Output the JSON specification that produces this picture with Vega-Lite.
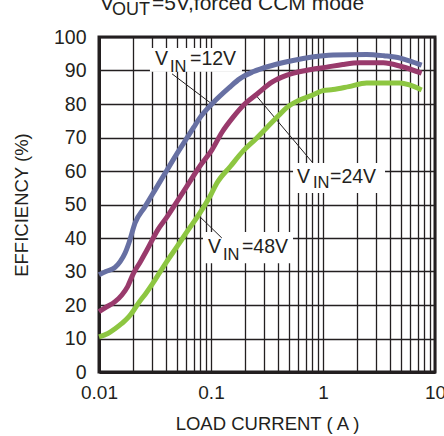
{
  "$schema": "https://vega.github.io/schema/vega-lite/v6.json",
  "width": 336,
  "height": 335,
  "autosize": {"type": "none"},
  "padding": {"left": 99, "top": 37, "right": 9, "bottom": 64},
  "background": "white",
  "config": {
    "view": {"stroke": "#231f20", "strokeWidth": 3},
    "axis": {
      "labelFont": "Liberation Sans",
      "titleFont": "Liberation Sans",
      "labelColor": "#231f20",
      "titleColor": "#231f20",
      "titleFontWeight": "normal",
      "labelFontSize": 19.5,
      "titleFontSize": 18.5,
      "gridColor": "#231f20",
      "gridOpacity": 1,
      "gridWidth": 1.3,
      "domainColor": "#231f20",
      "domainWidth": 3,
      "ticks": false,
      "tickSize": 0,
      "labelFlush": false,
      "labelOverlap": false
    }
  },
  "encoding": {
    "x": {"field": "x", "type": "quantitative", "scale": {"type": "log", "domain": [0.01, 10]},
      "axis": {
        "title": "LOAD CURRENT ( A )",
        "values": [0.01,0.02,0.03,0.04,0.05,0.06,0.07,0.08,0.09,0.1,0.2,0.3,0.4,0.5,0.6,0.7,0.8,0.9,1,2,3,4,5,6,7,8,9,10],
        "labelExpr": "datum.value == 0.01 ? '0.01' : datum.value == 0.1 ? '0.1' : datum.value == 1 ? '1' : datum.value == 10 ? '10' : ''",
        "labelFontSize": 19,
        "labelOverlap": false,
        "labelPadding": 11,
        "titlePadding": 12,
        "grid": true
      }},
    "y": {"field": "y", "type": "quantitative", "scale": {"domain": [0, 100], "nice": false},
      "axis": {
        "title": "EFFICIENCY (%)",
        "values": [0,10,20,30,40,50,60,70,80,90,100],
        "tickCount": 11,
        "labelExpr": "format(datum.value, 'd')",
        "labelOverlap": false,
        "labelBound": false,
        "labelPadding": 13,
        "titlePadding": 22,
        "grid": true
      }}
  },
  "layer": [
    {
      "data": {"values": [
        {"x": 0.0285, "x2": 0.189, "y": 96.7, "y2": 89.6},
        {"x": 0.54, "x2": 3.58, "y": 62.4, "y2": 53.4},
        {"x": 0.0848, "x2": 0.54, "y": 41.8, "y2": 32.5}
      ]},
      "mark": {"type": "rect", "fill": "white"},
      "encoding": {
        "x2": {"field": "x2"},
        "y2": {"field": "y2"}
      }
    },
    {
      "data": {"values": [
        {"x": 0.0449, "y": 89, "x2": 0.102, "y2": 80},
        {"x": 0.246, "y": 83, "x2": 0.798, "y2": 62.7},
        {"x": 0.0765, "y": 46.9, "x2": 0.125, "y2": 40}
      ]},
      "mark": {"type": "rule", "color": "#231f20", "strokeWidth": 1},
      "encoding": {
        "x2": {"field": "x2"},
        "y2": {"field": "y2"}
      }
    },
    {
      "data": {"values": [
        {"s": "12V", "x": 0.01, "y": 29},
        {"s": "12V", "x": 0.0115, "y": 30},
        {"s": "12V", "x": 0.0139, "y": 31.2},
        {"s": "12V", "x": 0.0155, "y": 33},
        {"s": "12V", "x": 0.0171, "y": 35.5},
        {"s": "12V", "x": 0.0185, "y": 38.5},
        {"s": "12V", "x": 0.021, "y": 44.5},
        {"s": "12V", "x": 0.0257, "y": 49.3},
        {"s": "12V", "x": 0.0316, "y": 54.3},
        {"s": "12V", "x": 0.0405, "y": 60.3},
        {"s": "12V", "x": 0.0508, "y": 65.7},
        {"s": "12V", "x": 0.06, "y": 69.5},
        {"s": "12V", "x": 0.07, "y": 73},
        {"s": "12V", "x": 0.08, "y": 76},
        {"s": "12V", "x": 0.104, "y": 80.3},
        {"s": "12V", "x": 0.147, "y": 85},
        {"s": "12V", "x": 0.18, "y": 87.5},
        {"s": "12V", "x": 0.237, "y": 89.6},
        {"s": "12V", "x": 0.35, "y": 91.5},
        {"s": "12V", "x": 0.54, "y": 93},
        {"s": "12V", "x": 0.8, "y": 94},
        {"s": "12V", "x": 1.23, "y": 94.6},
        {"s": "12V", "x": 2.45, "y": 94.8},
        {"s": "12V", "x": 3.5, "y": 94.4},
        {"s": "12V", "x": 4.9, "y": 93.7},
        {"s": "12V", "x": 6, "y": 92.8},
        {"s": "12V", "x": 7.6, "y": 91.6},
        {"s": "24V", "x": 0.01, "y": 18},
        {"s": "24V", "x": 0.0115, "y": 19.3},
        {"s": "24V", "x": 0.0139, "y": 21},
        {"s": "24V", "x": 0.016, "y": 23},
        {"s": "24V", "x": 0.018, "y": 25.5},
        {"s": "24V", "x": 0.0202, "y": 29.3},
        {"s": "24V", "x": 0.0235, "y": 33},
        {"s": "24V", "x": 0.0268, "y": 36.4},
        {"s": "24V", "x": 0.0336, "y": 42.5},
        {"s": "24V", "x": 0.0405, "y": 46.3},
        {"s": "24V", "x": 0.05, "y": 51},
        {"s": "24V", "x": 0.061, "y": 55.5},
        {"s": "24V", "x": 0.0797, "y": 61.5},
        {"s": "24V", "x": 0.102, "y": 66.3},
        {"s": "24V", "x": 0.125, "y": 71.5},
        {"s": "24V", "x": 0.157, "y": 76},
        {"s": "24V", "x": 0.2, "y": 80},
        {"s": "24V", "x": 0.258, "y": 83},
        {"s": "24V", "x": 0.35, "y": 86.5},
        {"s": "24V", "x": 0.477, "y": 88.6},
        {"s": "24V", "x": 0.7, "y": 90},
        {"s": "24V", "x": 1.08, "y": 91},
        {"s": "24V", "x": 1.5, "y": 91.8},
        {"s": "24V", "x": 2.14, "y": 92.3},
        {"s": "24V", "x": 3.45, "y": 92.3},
        {"s": "24V", "x": 5, "y": 91.2},
        {"s": "24V", "x": 7.6, "y": 89.2},
        {"s": "48V", "x": 0.01, "y": 10.5},
        {"s": "48V", "x": 0.012, "y": 11.5},
        {"s": "48V", "x": 0.014, "y": 13},
        {"s": "48V", "x": 0.016, "y": 14.5},
        {"s": "48V", "x": 0.0185, "y": 16.5},
        {"s": "48V", "x": 0.0205, "y": 18.5},
        {"s": "48V", "x": 0.023, "y": 21},
        {"s": "48V", "x": 0.026, "y": 23.3},
        {"s": "48V", "x": 0.03, "y": 26.3},
        {"s": "48V", "x": 0.035, "y": 29.8},
        {"s": "48V", "x": 0.04, "y": 32.8},
        {"s": "48V", "x": 0.0497, "y": 37.4},
        {"s": "48V", "x": 0.06, "y": 41.5},
        {"s": "48V", "x": 0.0797, "y": 47.5},
        {"s": "48V", "x": 0.1, "y": 53},
        {"s": "48V", "x": 0.113, "y": 56.4},
        {"s": "48V", "x": 0.15, "y": 61.5},
        {"s": "48V", "x": 0.194, "y": 66},
        {"s": "48V", "x": 0.25, "y": 69.5},
        {"s": "48V", "x": 0.316, "y": 73},
        {"s": "48V", "x": 0.4, "y": 76.5},
        {"s": "48V", "x": 0.477, "y": 79},
        {"s": "48V", "x": 0.6, "y": 81},
        {"s": "48V", "x": 0.81, "y": 82.7},
        {"s": "48V", "x": 1.0, "y": 84},
        {"s": "48V", "x": 1.23, "y": 84.3},
        {"s": "48V", "x": 1.7, "y": 85.2},
        {"s": "48V", "x": 2.45, "y": 86.3},
        {"s": "48V", "x": 4.9, "y": 86.3},
        {"s": "48V", "x": 6, "y": 85.6},
        {"s": "48V", "x": 7.6, "y": 84.2}
      ]},
      "mark": {"type": "line", "strokeWidth": 5, "strokeJoin": "round", "interpolate": "monotone"},
      "encoding": {
        "color": {"field": "s", "type": "nominal", "legend": null,
          "scale": {"domain": ["12V", "24V", "48V"], "range": ["#6770A3", "#993A6C", "#8DC641"]}}
      }
    },
    {
      "data": {"values": [
        {"t": "V", "x": 0.0316, "y": 91.6},
        {"t": "=12V", "x": 0.065, "y": 91.6},
        {"t": "V", "x": 0.586, "y": 56.4},
        {"t": "=24V", "x": 1.155, "y": 56.4},
        {"t": "V", "x": 0.0939, "y": 35.5},
        {"t": "=48V", "x": 0.189, "y": 35.5}
      ]},
      "mark": {"type": "text", "font": "Liberation Sans", "fontSize": 19.5, "align": "left", "baseline": "alphabetic", "color": "#231f20"},
      "encoding": {"text": {"field": "t"}}
    },
    {
      "data": {"values": [
        {"t": "IN", "x": 0.043, "y": 89.6},
        {"t": "IN", "x": 0.814, "y": 54.9},
        {"t": "IN", "x": 0.128, "y": 33.4}
      ]},
      "mark": {"type": "text", "font": "Liberation Sans", "fontSize": 16.5, "align": "left", "baseline": "alphabetic", "color": "#231f20"},
      "encoding": {"text": {"field": "t"}}
    },
    {
      "data": {"values": [
        {"t": "V", "x": 0.0102, "y": 108.1},
        {"t": "=5V,forced CCM mode", "x": 0.0297, "y": 108.1}
      ]},
      "mark": {"type": "text", "font": "Liberation Sans", "fontSize": 21, "align": "left", "baseline": "alphabetic", "color": "#231f20"},
      "encoding": {"text": {"field": "t"}}
    },
    {
      "data": {"values": [
        {"t": "OUT", "x": 0.01306, "y": 106.6}
      ]},
      "mark": {"type": "text", "font": "Liberation Sans", "fontSize": 18, "align": "left", "baseline": "alphabetic", "color": "#231f20"},
      "encoding": {"text": {"field": "t"}}
    }
  ]
}
